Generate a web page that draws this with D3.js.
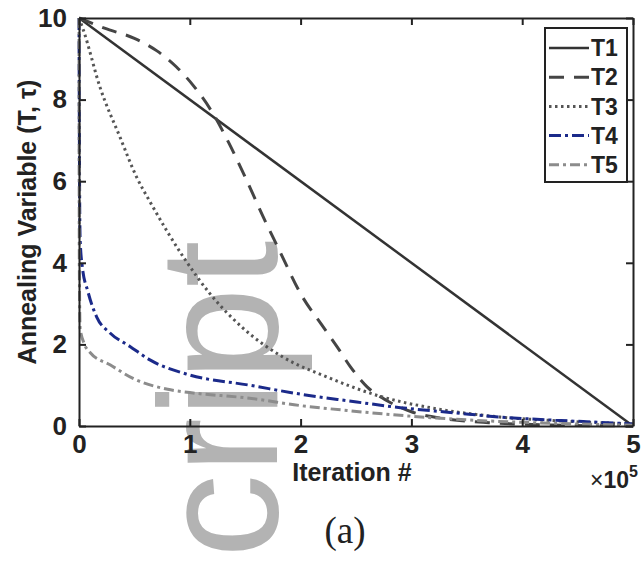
<!DOCTYPE html>
<html>
<head>
<meta charset="utf-8">
<script src="https://cdn.jsdelivr.net/npm/d3@7"></script>
<style>
  body { margin: 0; background: #fff; }
  svg { display: block; }
</style>
</head>
<body>
<svg></svg>
<script>
var width  = 644;
var height = 563;

// iteration (x 1e5) and annealing variable
var xTicks = [0, 1, 2, 3, 4, 5];
var yTicks = [0, 2, 4, 6, 8, 10];
var names  = ['T1', 'T2', 'T3', 'T4', 'T5'];

var t1 = [[0, 10], [5, 0]];
var t2 = [[0, 10], [0.23, 9.75], [0.5, 9.5], [0.7, 9.2], [0.88, 8.8], [1.03, 8.35],
          [1.2, 7.7], [1.35, 6.95], [1.5, 6.1], [1.65, 5.2], [1.8, 4.35],
          [2.02, 3.15], [2.18, 2.52], [2.33, 1.94], [2.45, 1.45], [2.6, 0.96], [2.78, 0.62],
          [3.0, 0.35], [3.3, 0.18], [3.7, 0.08], [4.2, 0.03], [5, 0]];
var t3 = [[0, 10], [0.04, 9.7], [0.19, 8.3], [0.37, 7.08], [0.52, 6.1], [0.64, 5.5],
          [0.8, 4.75], [0.94, 4.15], [1.18, 3.25], [1.48, 2.4], [1.84, 1.69], [2.24, 1.2],
          [2.74, 0.71], [3.19, 0.44], [3.8, 0.22], [4.3, 0.13], [5, 0.05]];
var t4 = [[0, 10], [0.005, 6], [0.01, 4.6], [0.03, 3.9], [0.08, 3.3], [0.16, 2.67],
          [0.28, 2.28], [0.46, 1.95], [0.64, 1.62], [1.0, 1.25], [1.54, 1.0], [2.0, 0.78],
          [2.42, 0.62], [2.9, 0.45], [3.4, 0.32], [3.8, 0.22], [4.3, 0.14], [4.7, 0.09], [5, 0.05]];
var t5 = [[0, 10], [0.003, 4], [0.01, 2.4], [0.05, 2.0], [0.1, 1.8], [0.28, 1.5],
          [0.5, 1.15], [0.8, 0.9], [1.0, 0.82], [1.54, 0.68], [2.0, 0.5], [2.42, 0.38],
          [3.0, 0.24], [3.5, 0.15], [4.0, 0.09], [4.5, 0.05], [5, 0.02]];

var series = [t1, t2, t3, t4, t5];
var colors = ['#333333', '#454545', '#555555', '#1b2a8a', '#8c8c8c'];
var dashes = ['none', '15,10', '2.5,3.5', '12,4,3,4', '10,4,3,4'];
var widths = [2.5, 3, 3, 3, 3];

var plotLeft = 79, plotRight = 633, plotTop = 18, plotBottom = 426;

var xScale = d3.scaleLinear().domain([0, 5]).range([plotLeft, plotRight]);
var yScale = d3.scaleLinear().domain([0, 10]).range([plotBottom, plotTop]);

var svg = d3.select('svg')
    .attr('width', width)
    .attr('height', height)
    .style('font-family', '"Liberation Sans", Arial, sans-serif');

// watermark fragment behind the chart
svg.append('text')
    .attr('transform', 'translate(277, 558) rotate(-90)')
    .attr('font-size', 168)
    .attr('fill', '#b3b3b3')
    .text('cript');

var line = d3.line()
    .x(d => xScale(d[0]))
    .y(d => yScale(d[1]))
    .curve(d3.curveMonotoneX);

svg.append('g')
    .selectAll('path')
    .data(series)
    .enter()
    .append('path')
        .attr('d', line)
        .attr('fill', 'none')
        .attr('stroke', (d, i) => colors[i])
        .attr('stroke-width', (d, i) => widths[i])
        .attr('stroke-dasharray', (d, i) => dashes[i]);

// axes, ticks pointing inward, box around
var fmt = d3.format('d');
var xAxis = d3.axisBottom(xScale).tickValues(xTicks).tickFormat(fmt).tickSize(-7).tickSizeOuter(0).tickPadding(9);
var yAxis = d3.axisLeft(yScale).tickValues(yTicks).tickFormat(fmt).tickSize(-7).tickSizeOuter(0).tickPadding(12);

svg.append('g')
    .attr('transform', 'translate(0,' + plotBottom + ')')
    .call(xAxis);
svg.append('g')
    .attr('transform', 'translate(' + plotLeft + ',0)')
    .call(yAxis);

svg.append('g')
    .attr('transform', 'translate(0,' + plotTop + ')')
    .call(d3.axisTop(xScale).tickValues(xTicks).tickSize(-7).tickSizeOuter(0).tickFormat(''));
svg.append('g')
    .attr('transform', 'translate(' + plotRight + ',0)')
    .call(d3.axisRight(yScale).tickValues(yTicks).tickSize(-7).tickSizeOuter(0).tickFormat(''));

svg.selectAll('.domain, .tick line')
    .attr('stroke', '#222')
    .attr('stroke-width', 2);

svg.selectAll('.tick text')
    .attr('font-size', 26)
    .attr('font-weight', 'bold')
    .attr('fill', '#222')
    .attr('font-family', '"Liberation Sans", Arial, sans-serif');

// axis labels
svg.append('text')
    .attr('x', 352)
    .attr('y', 481)
    .attr('text-anchor', 'middle')
    .attr('font-size', 25)
    .attr('font-weight', 'bold')
    .attr('fill', '#222')
    .text('Iteration #');

svg.append('text')
    .attr('transform', 'rotate(-90)')
    .attr('x', -(plotTop + plotBottom) / 2)
    .attr('y', 36)
    .attr('text-anchor', 'middle')
    .attr('font-size', 25)
    .attr('font-weight', 'bold')
    .attr('fill', '#222')
    .text('Annealing Variable (T, τ)');

var mult = svg.append('text')
    .attr('x', 638)
    .attr('y', 488)
    .attr('text-anchor', 'end')
    .attr('font-size', 23)
    .attr('fill', '#222');
mult.append('tspan').text('×');
mult.append('tspan').attr('font-weight', 'bold').text('10');
mult.append('tspan').attr('font-weight', 'bold').attr('font-size', 16).attr('dy', -11).text('5');

svg.append('text')
    .attr('x', 345)
    .attr('y', 543)
    .attr('text-anchor', 'middle')
    .attr('font-size', 37)
    .attr('font-family', '"Liberation Serif", "Times New Roman", serif')
    .attr('fill', '#222')
    .text('(a)');

// legend
var legend = svg.append('g');
legend.append('rect')
    .attr('x', 545)
    .attr('y', 28)
    .attr('width', 82)
    .attr('height', 154)
    .attr('fill', '#fff')
    .attr('stroke', '#222')
    .attr('stroke-width', 2);

var rows = legend.selectAll('g.row')
    .data(names)
    .enter()
    .append('g')
        .attr('class', 'row')
        .attr('transform', (d, i) => 'translate(0,' + (48 + i * 29.2) + ')');

rows.append('line')
    .attr('x1', 549)
    .attr('x2', 589)
    .attr('stroke', (d, i) => colors[i])
    .attr('stroke-width', (d, i) => widths[i])
    .attr('stroke-dasharray', (d, i) => dashes[i]);

rows.append('text')
    .attr('x', 591)
    .attr('dy', '0.36em')
    .attr('font-size', 23)
    .attr('font-weight', 'bold')
    .attr('fill', '#222')
    .text(d => d);
</script>
</body>
</html>
